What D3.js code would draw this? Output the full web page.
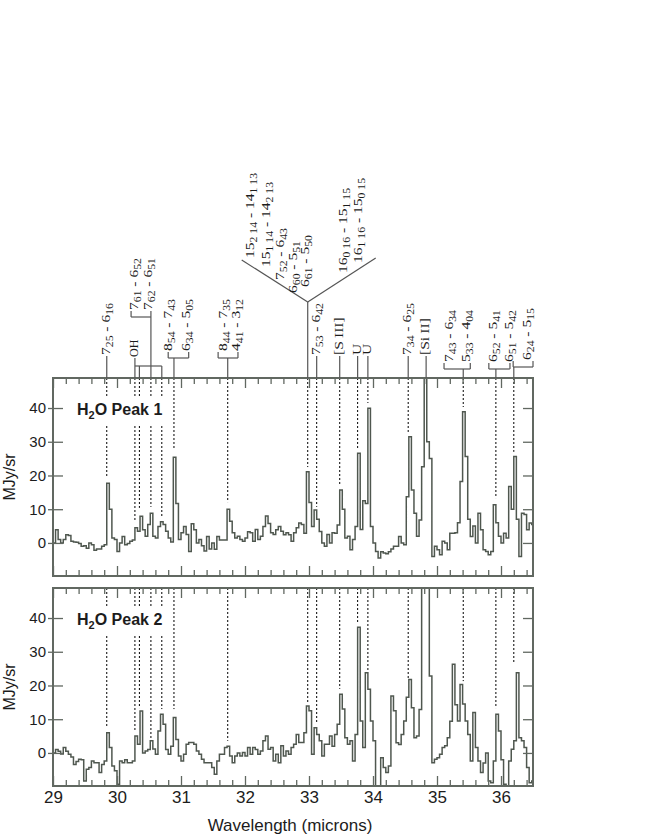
<!DOCTYPE html>
<html>
<head>
<meta charset="utf-8">
<script src="https://cdn.jsdelivr.net/npm/d3@7"></script>
<style>
  body { margin: 0; background: #fff; }
  svg { display: block; }
</style>
</head>
<body>
<svg id="chart" width="646" height="836"></svg>
<script>
// Spectra, MJy/sr, one value per 0.04 micron bin starting at 29.00
var binStart = 29.0;
var binWidth = 0.04;

var peak1 = [
  0, 3.9, 1.0, 0, 1.0, 2.4, 2.2, 0.5, 0.3, 0.2,
  -0.2, -1.0, -0.8, -1.6, 0, -0.5, -2.2, -1.8, -1.8, -1.0,
  -0.5, 17.7, 10.0, 1.5, 1.0, -2.5, 0, 1.9, -0.5, -0.2,
  0.5, 0.9, 4.5, 3.5, 7.9, 3.9, 2.0, 5.5, 8.8, 2.0,
  1.5, 4.9, 6.3, 5.5, 3.5, 1.5, 0.3, 25.4, 11.7, 1.0,
  3.0, 4.9, 2.5, -2.5, 5.7, 3.9, 0, 1.0, -0.8, -2.4,
  1.9, -1.8, 0, -1.9, 1.9, 0.9, 0.9, 0.9, 10.0, 6.4,
  3.0, 1.5, 2.0, 1.0, 0.5, 1.5, 3.3, 3.0, 0.5, 4.0,
  1.0, 2.0, 4.9, 8.0, 5.8, 3.0, 2.5, 3.9, 4.9, 3.5,
  2.4, 3.0, 2.4, 0.5, 3.0, 4.5, 5.9, 5.5, 2.9, 21.1,
  12.0, 4.9, 9.8, 7.0, 3.4, 0, -1.0, 2.5, 0, 3.0,
  2.9, 5.3, 15.7, 10.0, 1.5, 2.0, -2.0, 1.0, 4.9, 26.6,
  4.0, 12.5, 11.7, 39.9, 4.9, 0, -2.5, -4.5, -2.6, -3.0,
  -3.2, -2.6, -1.8, -1.0, -1.0, 1.9, 0, -0.5, 13.7, 31.5,
  15.7, 8.8, 2.0, 6.8, 22.6, 60, 30, 25, -4.0, -1.0,
  -2.0, -3.5, 0.5, 0, -2.0, 2.9, 2.9, 3.0, 6.0, 18.2,
  38.9, 25.6, 7.0, 1.9, 5.0, 0, 8.8, 3.9, -2.0, -2.5,
  -3.5, -2.5, 11.3, 6.0, 2.0, 0, 2.9, 1.5, 16.7, 10.0,
  25.6, 7.0, -4.0, 8.8, 8.4, 3.9, 5.9, 5.5
];

var peak2 = [
  0, 1.0, 0.5, -0.3, 1.6, 0.5, -0.4, -1.2, -3.4, -2.5,
  -1.9, -2.0, -8.3, -4.8, -4.3, -2.4, -2.9, -2.9, -5.8, -3.4,
  -2.4, 6.0, 1.6, -3.9, -5.3, -9.3, -2.4, -2.9, -2.0, -2.9,
  -2.9, -2.4, 5.0, 2.6, 12.4, 0, 0.6, 1.0, 3.6, 1.2,
  -0.4, 6.5, 11.5, 8.5, 1.0, -0.4, 2.0, 10.5, 4.0, -0.9,
  -2.4, -0.4, 2.6, 3.1, 3.1, 2.6, 0.6, -0.4, -1.9, -2.9,
  -2.9, -2.9, -4.3, -6.3, -2.4, -0.4, -0.4, 1.6, 2.0, -0.9,
  -2.9, -0.9, 0, -0.9, 0.1, -0.9, 1.6, -0.4, 1.6, 1.0,
  -0.4, 0.6, 3.6, 5.0, 1.1, 1.6, -2.4, -0.4, -2.9, 2.1,
  -0.9, 0.6, -0.4, 1.6, 2.6, 5.5, 3.1, 3.1, 6.0, 13.9,
  12.5, -0.4, 7.5, 5.5, 3.6, -0.9, 2.6, 2.6, 5.0, 2.0,
  5.5, 8.5, 17.4, 13.0, 4.5, 2.6, 3.6, -2.4, 5.5, 37.3,
  9.5, 1.6, 23.8, 18.9, 9.5, 3.6, -12, -12, -1.4, -4.3,
  -5.8, -3.9, 16.9, 12.5, 3.0, 2.5, 5.5, 9.5, 16.5, 21.8,
  13.4, 4.5, 5.0, 12.9, 60, 60, 60, 22.8, -2.9, -1.9,
  -1.4, -0.4, 1.6, 2.1, 4.5, 9.4, 26.3, 14.3, 9.5, 20.3,
  14.5, 9.5, 5.5, -2.4, 12.0, 1.6, -2.4, -5.8, -3.0, 0,
  -8.3, -8.8, -2.4, 11.5, 6.5, -2.0, -9.3, -12, -2.4, 1.1,
  3.6, 23.8, 4.5, 3.6, 1.6, -4.3, -8.8, -8.3
];

// Identified lines (microns) marked with dotted lines in both panels
var dashWl = [29.84, 30.28, 30.35, 30.53, 30.70, 30.89, 31.73, 32.98,
              33.12, 33.48, 33.76, 33.92, 34.55, 35.41, 35.92, 36.20];
// where each dotted line stops, MJy/sr
var dashEnd1 = [19.3, 6.2, 10.4, 10.7, 7.4, 27.6, 12.1, 22.5,
                10.7, 17.2, 28.1, 41.5, 32.9, 40.3, 13.3, 27.0];
var dashEnd2 = [7.4, 6.5, 13.3, 4.1, 13.0, 13.0, 3.6, 14.8,
                8.9, 19.0, 38.5, 24.3, 22.2, 21.3, 13.3, 26.4];

// Single labels over the plot
var singleWl = [29.84, 33.12, 33.48, 33.76, 33.92, 34.55, 34.83];
var singleText = ["7_{25} - 6_{16}", "7_{53} - 6_{42}", "[S\u2009III]", "U", "U",
                  "7_{34} - 6_{25}", "[Si\u2009II]"];

// OH lines joined by one bracket
var ohWl = [30.28, 30.35, 30.70];

// Blended pairs: line position, bracket span, label positions and texts
var pairWl = [30.53, 30.89, 31.73, 35.41, 35.92, 36.20];
var pairSpan = [[30.22, 30.53], [30.80, 31.12], [31.58, 31.89],
                [35.11, 35.52], [35.81, 36.14], [36.19, 36.50]];
var pairLabelWl = [[30.28, 30.50], [30.81, 31.09], [31.67, 31.875],
                   [35.20, 35.47], [35.89, 36.14], [36.42]];
var pairText = [["7_{61} - 6_{52}", "7_{62} - 6_{51}"],
                ["8_{54} - 7_{43}", "6_{34} - 5_{05}"],
                ["8_{44} - 7_{35}", "4_{41} - 3_{12}"],
                ["7_{43} - 6_{34}", "5_{33} - 4_{04}"],
                ["6_{52} - 5_{41}", "6_{51} - 5_{42}"],
                ["6_{24} - 5_{15}"]];

// Blend at 32.98 drawn as a fork
var forkWl = 32.98;
var forkLeftText = ["15_{2 14} - 14_{1 13}", "15_{1 14} - 14_{2 13}", "7_{52} - 6_{43}", "6_{60} - 5_{51}"];
var forkRightText = ["6_{61} - 5_{50}", "16_{0 16} - 15_{1 15}", "16_{1 16} - 15_{0 15}"];

var xTickLabels = [29, 30, 31, 32, 33, 34, 35, 36];
var yTickLabels = [0, 10, 20, 30, 40];

// ---------------------------------------------------------------
var svg = d3.select("#chart");
var FRAME = "#616861";
var LINE = "#4f574f";
var INK = "#1c1c1c";
var SANS = "'Liberation Sans', Arial, sans-serif";
var SERIF = "'Liberation Serif', 'Times New Roman', serif";

var x = d3.scaleLinear().domain([29, 36.5]).range([53, 533]);

var panels = [
  { name: "1", values: peak1, dashEnds: dashEnd1, top: 378, bottom: 576 },
  { name: "2", values: peak2, dashEnds: dashEnd2, top: 588, bottom: 786 }
];

var minorTicks = d3.range(29, 36.51, 0.2).map(function (d) { return +d.toFixed(1); })
  .filter(function (d) { return Math.abs(d - Math.round(d)) > 0.01; });

panels.forEach(function (p, k) {
  var y = d3.scaleLinear().domain([-9.8, 48.9]).range([p.bottom, p.top]);
  var g = svg.append("g");

  var clipId = "clip" + k;
  svg.append("clipPath").attr("id", clipId)
    .append("rect")
    .attr("x", x(29)).attr("y", p.top)
    .attr("width", x(36.5) - x(29)).attr("height", p.bottom - p.top);

  // dotted line markers
  g.selectAll("line.dash").data(dashWl).join("line")
    .attr("class", "dash")
    .attr("x1", function (d) { return x(d); })
    .attr("x2", function (d) { return x(d); })
    .attr("y1", p.top)
    .attr("y2", function (d, i) { return y(p.dashEnds[i]); })
    .attr("stroke", "#000")
    .attr("stroke-width", 1)
    .attr("stroke-dasharray", "2,2");

  // panel label with white knockout
  g.append("rect").attr("x", 75).attr("y", p.top + 20)
    .attr("width", 95).attr("height", 26).attr("fill", "#fff");
  var t = g.append("text")
    .attr("x", 77).attr("y", p.top + 37)
    .attr("font-family", SANS).attr("font-weight", "bold")
    .attr("font-size", 16).attr("fill", INK);
  t.append("tspan").text("H");
  t.append("tspan").attr("font-size", 11).attr("dy", 4).text("2");
  t.append("tspan").attr("dy", -4).text("O Peak " + p.name);

  // spectrum as a step line
  var pts = p.values.map(function (v, i) { return [binStart + binWidth * i, v]; });
  pts.push([binStart + binWidth * p.values.length, p.values[p.values.length - 1]]);
  var line = d3.line()
    .x(function (d) { return x(d[0]); })
    .y(function (d) { return y(d[1]); })
    .curve(d3.curveStepAfter);
  g.append("path").datum(pts)
    .attr("d", line)
    .attr("fill", "none")
    .attr("stroke", LINE)
    .attr("stroke-width", 1.5)
    .attr("clip-path", "url(#" + clipId + ")");

  // axes
  var styleAxis = function (sel) {
    sel.select(".domain").remove();
    sel.selectAll(".tick line").attr("stroke", FRAME).attr("stroke-width", 1.3);
    sel.attr("font-family", SANS).attr("font-size", 15);
    sel.selectAll(".tick text").attr("fill", INK);
  };

  g.append("g")
    .attr("transform", "translate(" + x(29) + ",0)")
    .call(d3.axisLeft(y).tickValues(yTickLabels).tickSize(5).tickPadding(2))
    .call(styleAxis)
    .call(function (s) { s.selectAll(".tick line").attr("x1", 10); });

  g.append("g")
    .attr("transform", "translate(" + x(36.5) + ",0)")
    .call(d3.axisRight(y).tickValues(yTickLabels).tickSize(-10).tickFormat(""))
    .call(styleAxis);

  [[d3.axisBottom, p.bottom], [d3.axisTop, p.top]].forEach(function (a) {
    g.append("g")
      .attr("transform", "translate(0," + a[1] + ")")
      .call(a[0](x).tickValues(minorTicks).tickSize(-6).tickFormat(""))
      .call(styleAxis);
    g.append("g")
      .attr("transform", "translate(0," + a[1] + ")")
      .call(a[0](x).tickValues(xTickLabels).tickSize(-10).tickFormat(""))
      .call(styleAxis);
  });

  if (k === 1) {
    g.append("g")
      .attr("transform", "translate(0," + p.bottom + ")")
      .call(d3.axisBottom(x).tickValues(xTickLabels).tickSize(0).tickPadding(5))
      .call(styleAxis)
      .call(function (s) { s.attr("font-size", 17); });
  }

  // frame
  g.append("rect")
    .attr("x", x(29)).attr("y", p.top)
    .attr("width", x(36.5) - x(29)).attr("height", p.bottom - p.top)
    .attr("fill", "none").attr("stroke", FRAME).attr("stroke-width", 2);

  // y title
  svg.append("text")
    .attr("transform", "translate(15," + ((p.top + p.bottom) / 2) + ") rotate(-90)")
    .attr("text-anchor", "middle")
    .attr("font-family", SANS).attr("font-size", 16).attr("fill", INK)
    .text("MJy/sr");
});

svg.append("text")
  .attr("x", 290).attr("y", 831)
  .attr("text-anchor", "middle")
  .attr("font-family", SANS).attr("font-size", 17).attr("fill", INK)
  .text("Wavelength (microns)");

// ---------------------------------------------------------------
// Line identifications above panel 1
var axisTop = panels[0].top;
var ann = svg.append("g");
var labels = svg.append("g").attr("font-family", SERIF).attr("fill", INK);

// text with _{..} subscripts, rotated to read upward, start at (bx, by)
function rich(bx, by, str, size, stretch) {
  var tx = labels.append("text")
    .attr("transform", "translate(" + bx + "," + by + ") rotate(-90) scale(" + stretch + ",1)")
    .attr("font-size", size);
  var parts = str.split(/(_\{[^}]*\})/);
  var down = false;
  parts.forEach(function (s) {
    if (!s) return;
    if (s.indexOf("_{") === 0) {
      tx.append("tspan").attr("font-size", size * 0.75).attr("dy", down ? 0 : 3).text(s.slice(2, -1));
      down = true;
    } else {
      tx.append("tspan").attr("dy", down ? -3 : 0).text(s);
      down = false;
    }
  });
}

function seg(x1, y1, x2, y2) {
  ann.append("line")
    .attr("x1", x1).attr("y1", y1).attr("x2", x2).attr("y2", y2)
    .attr("stroke", "#555").attr("stroke-width", 1.2);
}

var SIZE = 13, STRETCH = 1.2;

// single labels
var singleBottom = 355;
singleWl.forEach(function (wl, i) {
  rich(x(wl) + 3, singleBottom, singleText[i], SIZE, STRETCH);
  seg(x(wl), singleBottom + 1, x(wl), axisTop);
});

// OH bracket
var ohBracketY = 366;
rich(x(ohWl[0]) + 3, 357, "OH", 12, 1);
seg(x(ohWl[0]), 358, x(ohWl[0]), ohBracketY);
seg(x(ohWl[0]), ohBracketY, x(ohWl[ohWl.length - 1]), ohBracketY);
ohWl.forEach(function (wl) { seg(x(wl), ohBracketY, x(wl), axisTop); });

// pairs with brackets
var pairY = [317, 358, 358, 369, 369, 367];
pairWl.forEach(function (wl, i) {
  var by = pairY[i];
  var a = x(pairSpan[i][0]), b = x(pairSpan[i][1]);
  seg(a, by, b, by);
  seg(a, by, a, by - 6);
  seg(b, by, b, by - 6);
  seg(x(wl), by, x(wl), axisTop);
  pairLabelWl[i].forEach(function (lw, j) {
    rich(x(lw) + 3, by - 7, pairText[i][j], SIZE, STRETCH);
  });
});

// fork
var fx = x(forkWl), fy = 302;
seg(fx, fy, fx, axisTop);
seg(fx, fy, fx - 66, fy - 42);
seg(fx, fy, fx + 68, fy - 44);
var forkLeftPos = [[-54, -44], [-38, -35], [-24, -22], [-11, -9]];
var forkRightPos = [[1, -15], [39, -29], [54, -39]];
forkLeftText.forEach(function (s, i) {
  rich(fx + forkLeftPos[i][0], fy + forkLeftPos[i][1], s, SIZE, STRETCH);
});
forkRightText.forEach(function (s, i) {
  rich(fx + forkRightPos[i][0], fy + forkRightPos[i][1], s, SIZE, STRETCH);
});
</script>
</body>
</html>
